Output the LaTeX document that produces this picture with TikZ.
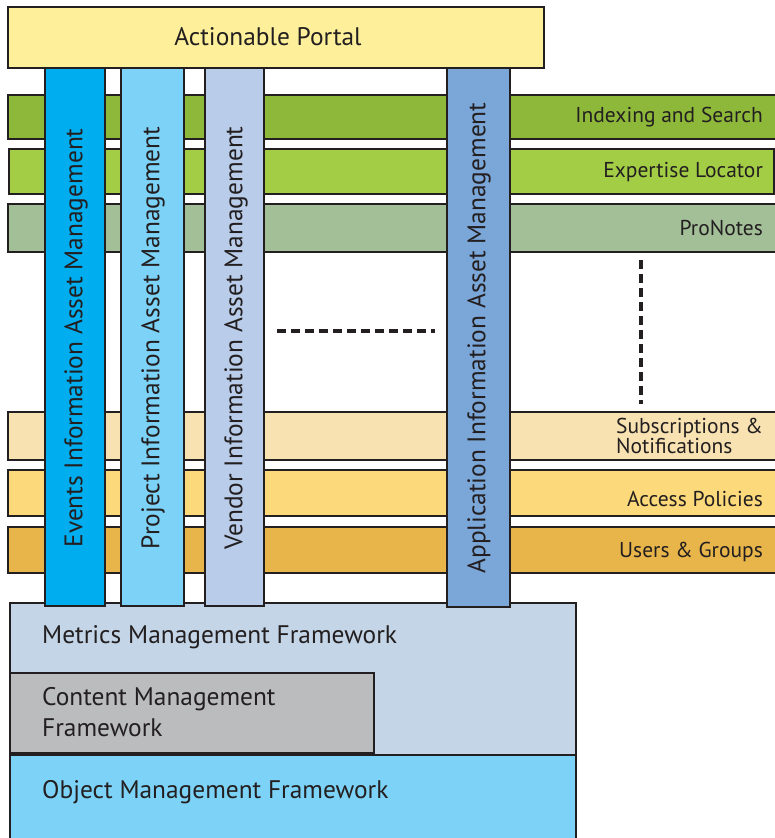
\documentclass[tikz,border=0pt]{standalone}
\usepackage{fontspec}
\setmainfont{PT Sans}
\definecolor{ink}{HTML}{231F20}
\definecolor{portalyellow}{HTML}{FEF09A}
\definecolor{indexgreen}{HTML}{8DB83A}
\definecolor{expertgreen}{HTML}{A3CD45}
\definecolor{notesgreen}{HTML}{A3BF98}
\definecolor{subscream}{HTML}{F8E2B2}
\definecolor{accessyellow}{HTML}{FCD97A}
\definecolor{usersorange}{HTML}{E8B54A}
\definecolor{eventsblue}{HTML}{00AEEF}
\definecolor{projectblue}{HTML}{7DD3F7}
\definecolor{vendorblue}{HTML}{B9CDEA}
\definecolor{appblue}{HTML}{7BA6D8}
\definecolor{metricsblue}{HTML}{C3D5E6}
\definecolor{contentgray}{HTML}{BBBCBE}
\definecolor{objectblue}{HTML}{7DD3F7}
\tikzset{
  box/.style={draw=ink, line width=2.6pt},
  dots/.style={draw=ink, line width=3.5pt, dash pattern=on 9pt off 5pt},
  bigtext/.style={font=\fontsize{25.4}{31}\selectfont}
}
\begin{document}
\begin{tikzpicture}[x=1pt,y=-1pt]
\tikzstyle{every node}+=[inner sep=0pt, text=ink, font=\fontsize{21.5}{25}\selectfont]
\useasboundingbox (0,0) rectangle (775,838);
% horizontal layers
\draw [box, fill=indexgreen] (8,95) rectangle (790,139);
\node [left] (idx) at (763,117) {Indexing and Search};
\draw [box, fill=expertgreen] (9,149) rectangle (774,194);
\node [left] (exp) at (763,172) {Expertise Locator};
\draw [box, fill=notesgreen] (8,204) rectangle (790,252);
\node [left] (pro) at (763,228) {ProNotes};
\draw [box, fill=subscream] (8,412) rectangle (790,460);
\node [left, align=left, font=\fontsize{21.5}{19.5}\selectfont] (sub) at (763,436) {Subscriptions \&\\Notifications};
\draw [box, fill=accessyellow] (8,470) rectangle (790,516);
\node [left] (acc) at (763,499) {Access Policies};
\draw [box, fill=usersorange] (8,527) rectangle (790,573);
\node [left] (usr) at (763,552) {Users \& Groups};
% frameworks
\draw [box, fill=metricsblue] (10,603) rectangle (576,755);
\node [right, bigtext] (met) at (42,637) {Metrics Management Framework};
\draw [box, fill=contentgray] (10,673) rectangle (374,753);
\node [right, align=left, bigtext] (cnt) at (42,712) {Content Management\\Framework};
\draw [box, fill=objectblue] (10,755) rectangle (576,850);
\node [right, bigtext] (obj) at (42,792) {Object Management Framework};
% vertical asset columns
\draw [box, fill=eventsblue] (45,68) rectangle (105,606);
\node [rotate=90, bigtext] (ev) at (76,338) {Events Information Asset Management};
\draw [box, fill=projectblue] (121,68) rectangle (184,606);
\node [rotate=90, bigtext] (prj) at (153,338) {Project Information Asset Management};
\draw [box, fill=vendorblue] (205,68) rectangle (264,606);
\node [rotate=90, bigtext] (ven) at (236,338) {Vendor Information Asset Management};
\draw [box, fill=appblue] (447,68) rectangle (510,607);
\node [rotate=90, bigtext] (app) at (479,338) {Application Information Asset Management};
% portal
\draw [box, fill=portalyellow] (8,7) rectangle (544,68);
\node [bigtext] (por) at (268,37) {Actionable Portal};
% more of the same
\coordinate (hl) at (277,331);
\coordinate (hr) at (435,331);
\draw [dots] (hl) -- (hr);
\coordinate (vt) at (641,260);
\coordinate (vb) at (641,404);
\draw [dots] (vt) -- (vb);
\end{tikzpicture}
\end{document}
